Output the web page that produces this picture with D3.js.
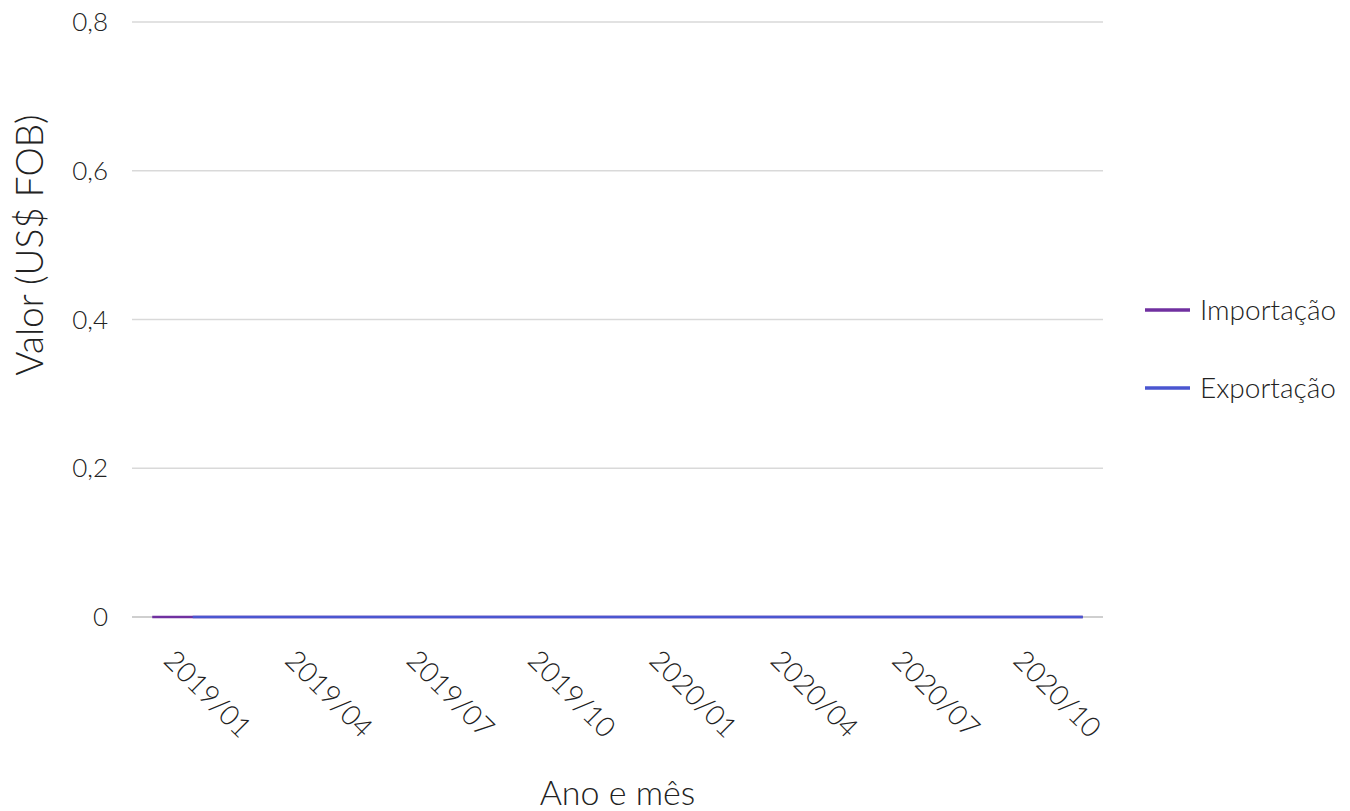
<!DOCTYPE html>
<html>
<head>
<meta charset="utf-8">
<script src="https://cdn.jsdelivr.net/npm/d3@7"></script>
<style>
  body { margin: 0; background: white; }
  text { font-family: "Lato Light", Lato, sans-serif; font-weight: 300; fill: #222; }
</style>
</head>
<body>
<div id="chart"></div>
<script>
// months shown on the x axis
let months = ['2019/01','2019/02','2019/03','2019/04','2019/05','2019/06','2019/07','2019/08','2019/09','2019/10','2019/11','2019/12',
  '2020/01','2020/02','2020/03','2020/04','2020/05','2020/06','2020/07','2020/08','2020/09','2020/10','2020/11','2020/12'];
let tickMonths = ['2019/01','2019/04','2019/07','2019/10','2020/01','2020/04','2020/07','2020/10'];
let yTicks = [0, 0.2, 0.4, 0.6, 0.8];

// series values (US$ FOB), null = no data
let importacao = [0,0,0,0,0,0,0,0,0,0,0,0,0,0,0,0,0,0,0,0,0,0,0,0];
let exportacao = [null,0,0,0,0,0,0,0,0,0,0,0,0,0,0,0,0,0,0,0,0,0,0,0];

let seriesNames = ['Importação', 'Exportação'];
let seriesColors = ['#7030a0', '#4a56d0'];

let width = 1350, height = 811;
let margin = { top: 22, bottom: 194, left: 132, right: 247 };

let svg = d3.select('#chart')
  .append('svg')
    .attr('width', width)
    .attr('height', height);

let xScale = d3.scalePoint()
  .domain(months)
  .range([margin.left, width - margin.right])
  .padding(0.5);

let yScale = d3.scaleLinear()
  .domain([0, 0.8])
  .range([height - margin.bottom, margin.top]);

// gridlines
svg.append('g')
  .selectAll('line')
  .data(yTicks)
  .enter()
  .append('line')
    .attr('x1', margin.left)
    .attr('x2', width - margin.right)
    .attr('y1', d => yScale(d))
    .attr('y2', d => yScale(d))
    .attr('stroke', d => d === 0 ? '#bfbfbf' : '#d9d9d9')
    .attr('stroke-width', 1.5);

// y axis labels
let fmt = d => d === 0 ? '0' : d3.format('.1f')(d).replace('.', ',');
svg.append('g')
  .selectAll('text')
  .data(yTicks)
  .enter()
  .append('text')
    .attr('x', margin.left - 24)
    .attr('y', d => yScale(d))
    .attr('dy', '0.35em')
    .attr('text-anchor', 'end')
    .style('font-size', '26px')
    .text(fmt);

// x axis labels, rotated
svg.append('g')
  .selectAll('text')
  .data(tickMonths)
  .enter()
  .append('text')
    .attr('transform', d => 'translate(' + (xScale(d) + 10) + ',' + (yScale(0) + 45) + ') rotate(45)')
    .attr('text-anchor', 'start')
    .style('font-size', '28px')
    .text(d => d);

// lines
let line = d3.line()
  .defined(d => d.v !== null)
  .x(d => xScale(d.m))
  .y(d => yScale(d.v));

[importacao, exportacao].forEach(function(vals, i) {
  svg.append('path')
    .datum(vals.map((v, j) => ({ m: months[j], v: v })))
    .attr('fill', 'none')
    .attr('stroke', seriesColors[i])
    .attr('stroke-width', 2.5)
    .attr('d', line);
});

// axis titles
svg.append('text')
  .attr('x', (margin.left + width - margin.right) / 2)
  .attr('y', 805)
  .attr('text-anchor', 'middle')
  .style('font-size', '34px')
  .text('Ano e mês');

svg.append('text')
  .attr('transform', 'translate(43,245) rotate(-90)')
  .attr('text-anchor', 'middle')
  .style('font-size', '37px')
  .text('Valor (US$ FOB)');

// legend
let legend = svg.append('g')
  .selectAll('g')
  .data(seriesNames)
  .enter()
  .append('g')
    .attr('transform', (d, i) => 'translate(1145,' + (310 + i * 78) + ')');

legend.append('line')
  .attr('x1', 0).attr('x2', 45)
  .attr('stroke', (d, i) => seriesColors[i])
  .attr('stroke-width', 3.5);

legend.append('text')
  .attr('x', 55)
  .attr('dy', '0.35em')
  .style('font-size', '28px')
  .text(d => d);
</script>
</body>
</html>
